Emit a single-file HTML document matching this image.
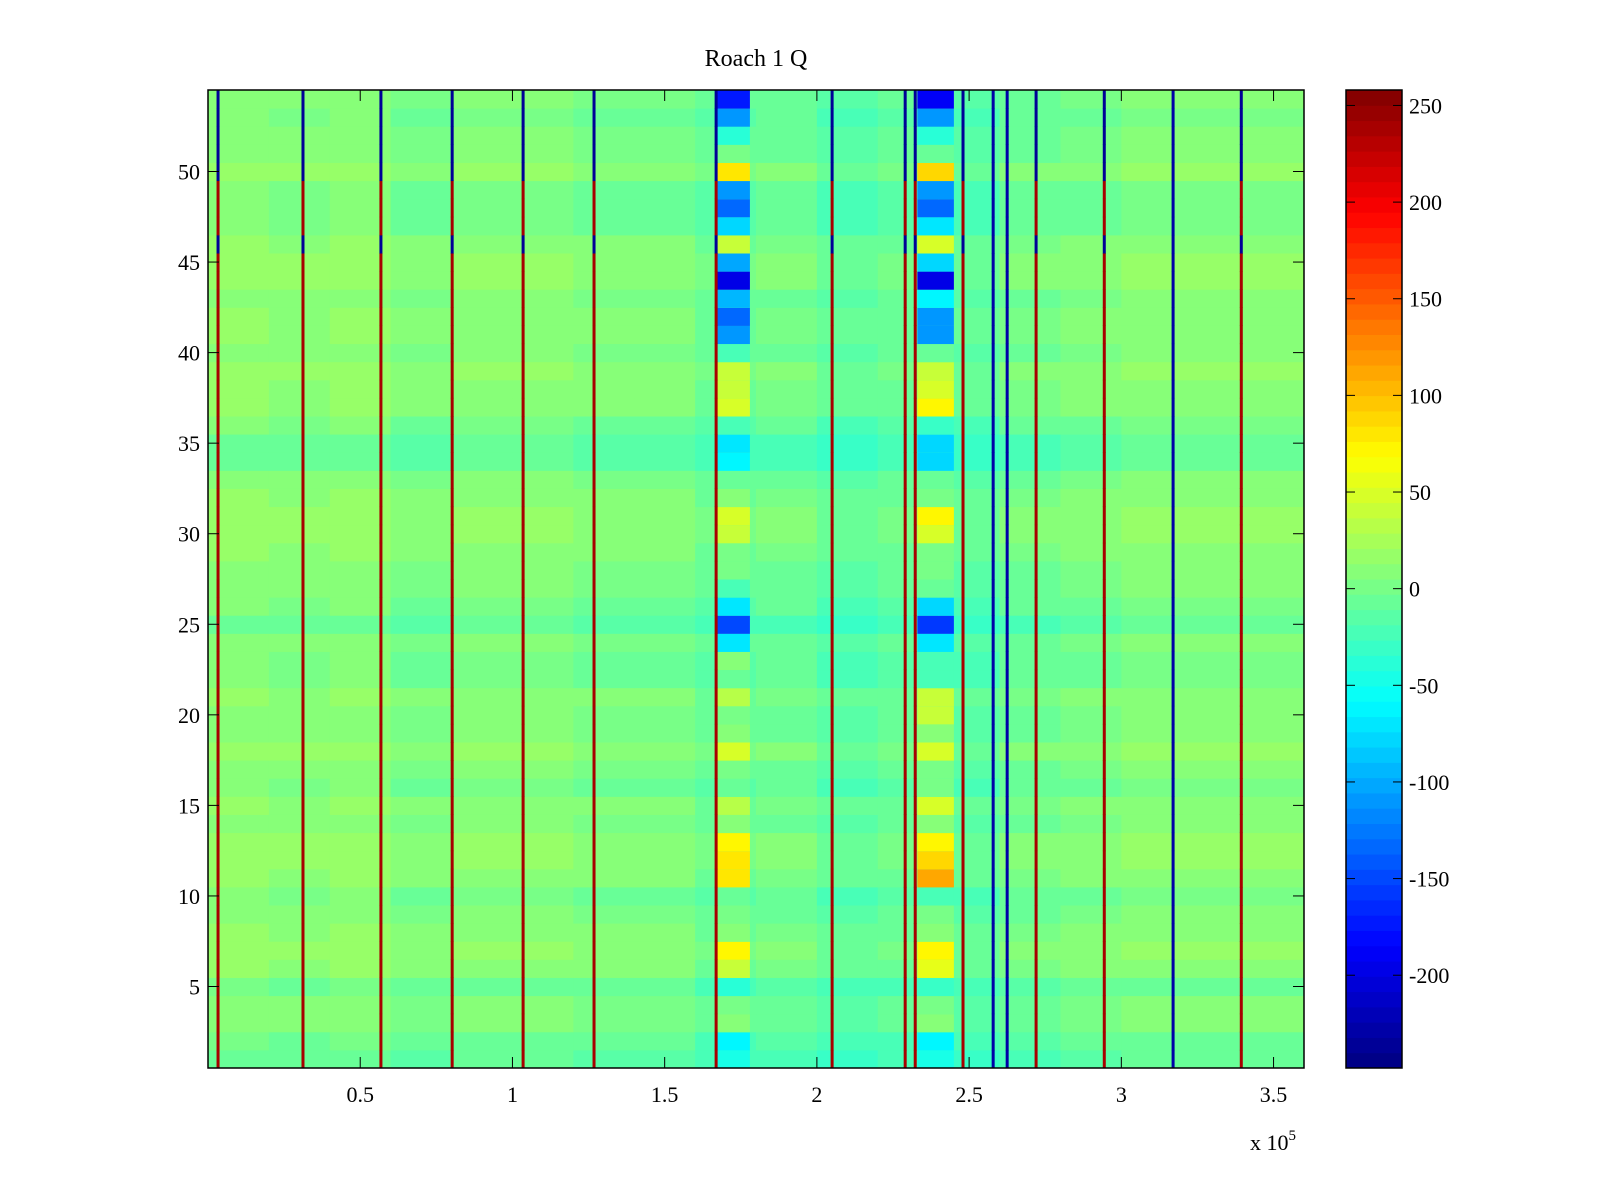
<!DOCTYPE html>
<html><head><meta charset="utf-8"><style>
html,body{margin:0;padding:0;background:#fff;}
svg{display:block;font-family:"Liberation Serif",serif;}
</style></head><body>
<svg id="chart" width="1600" height="1200" viewBox="0 0 1600 1200">
<text x="756" y="66" font-size="24" text-anchor="middle">Roach 1 Q</text>
<g id="cells"></g>
<g id="stripes"></g>
<rect x="208" y="90" width="1096" height="978" fill="none" stroke="#000" stroke-width="1.5"/>
<g id="axes"></g>
<g id="cbar"></g>
<text x="1250" y="1150" font-size="22">x 10<tspan dy="-10" font-size="15">5</tspan></text>
</svg>
<script>
// ---- data ----
const xTicks = [0.5, 1, 1.5, 2, 2.5, 3, 3.5];
const xTickLabels = ["0.5","1","1.5","2","2.5","3","3.5"];
const yTicks = [5,10,15,20,25,30,35,40,45,50];
const cbTicks = [-200,-150,-100,-50,0,50,100,150,200,250];
const baseValue = 0;
// column bins of 0.2e5 (18 bins)
const colTint = [10,5,10,0,5,5,0,0,-10,-5,-15,-10,-15,-5,0,5,5,5];
// row tint, row 1..54
const rowTint = [-15,-10,0,0,-10,5,10,5,0,-5, 5,10,10,0,5,-5,0,10,0,0, 5,-5,-5,0,-15,-5,0,0,5,10, 10,5,0,-15,-15,-5,5,5,10,0, 5,5,0,10,10,5,-5,-5,-5,10, 0,0,-5,0];
// anomaly bands (x range in units of 1e5), values row 1..54
const bandStart = [1.67, 2.33];
const bandEnd = [1.78, 2.45];
const bandLeft = [-50,-60,10,0,-40,40,70,10,0,-10, 80,80,70,10,30,-10,0,50,10,0, 30,-10,10,-70,-150,-70,-20,0,0,40, 50,10,-10,-60,-70,-20,50,40,40,-20, -110,-130,-90,-200,-100,40,-80,-130,-110,80, 0,-40,-110,-170];
const bandRight = [-50,-60,10,0,-30,60,70,10,0,-20, 110,90,70,10,50,0,0,50,10,40, 40,-20,-20,-70,-160,-80,-10,0,0,50, 70,0,-10,-80,-80,-30,70,50,40,-10, -110,-110,-60,-200,-80,50,-70,-130,-110,90, -10,-40,-110,-190];
// dark stripes (x in 1e5 units), kind: 'a' = blue at top rows / red elsewhere, 'b' = blue throughout
const stripeX = [0.033,0.312,0.568,0.802,1.035,1.268,1.669,2.05,2.29,2.323,2.48,2.72,2.944,3.17,3.394,2.579,2.625];
const stripeKind = ["a","a","a","a","a","a","a","a","a","a","a","a","a","b","a","b","b"];

// ---- scales ----
const X0=208, X1=1304, Y0=90, Y1=1068, xMin=0, xMax=3.6, yMin=0.5, yMax=54.5, cMin=-248, cMax=258;
const sx = v => X0 + (v - xMin) / (xMax - xMin) * (X1 - X0);
const sy = v => Y1 - (v - yMin) / (yMax - yMin) * (Y1 - Y0);
function jet(v){
  let t = (v - cMin) / (cMax - cMin); t = Math.max(0, Math.min(0.9999, t));
  t = (Math.floor(t*64)+0.5)/64;
  const c = a => Math.round(255*Math.max(0, Math.min(1, a)));
  return `rgb(${c(1.5-Math.abs(4*t-3))},${c(1.5-Math.abs(4*t-2))},${c(1.5-Math.abs(4*t-1))})`;
}
const NS="http://www.w3.org/2000/svg";
function mk(tag, attrs, parent){ const e=document.createElementNS(NS,tag); for(const k in attrs) e.setAttribute(k,attrs[k]); parent.appendChild(e); return e; }

// ---- cells ----
const cells=document.getElementById('cells');
const binW = (xMax - xMin) / colTint.length;
for(let r=0;r<rowTint.length;r++){
  const row=r+1, ya=sy(row+0.5), yb=sy(row-0.5);
  for(let c=0;c<colTint.length;c++){
    const xa=sx(c*binW), xb=sx((c+1)*binW);
    const e=mk('rect',{x:xa,y:ya,width:xb-xa+0.5,height:yb-ya+0.5,fill:jet(baseValue+colTint[c]+rowTint[r])},cells);
    
    
  }
  [bandLeft,bandRight].forEach((arr,i)=>{
    const xa=sx(bandStart[i]), xb=sx(bandEnd[i]);
    const e=mk('rect',{x:xa,y:ya,width:xb-xa,height:yb-ya+0.5,fill:jet(arr[r])},cells);
    
    
  });
}
// ---- stripes ----
const stripes=document.getElementById('stripes');
stripeX.forEach((x,i)=>{
  for(let row=1;row<=54;row++){
    let v;
    if(stripeKind[i]==='b') v=-230;
    else v = (row>=50 || row===46) ? -235 : 240;
    const e=mk('rect',{x:sx(x)-1.5,y:sy(row+0.5),width:3,height:sy(row-0.5)-sy(row+0.5)+0.5,fill:jet(v)},stripes);
    
    
  }
});
// ---- axes ----
const axes=document.getElementById('axes');
xTicks.forEach((t,i)=>{
  const x=sx(t);
  mk('line',{x1:x,y1:Y1,x2:x,y2:Y1-11,stroke:'#000','stroke-width':1},axes);
  mk('line',{x1:x,y1:Y0,x2:x,y2:Y0+11,stroke:'#000','stroke-width':1},axes);
  const tx=mk('text',{x:x,y:1102,'font-size':22,'text-anchor':'middle'},axes);
  tx.textContent=xTickLabels[i];
  
  
});
yTicks.forEach(t=>{
  const y=sy(t);
  mk('line',{x1:X0,y1:y,x2:X0+11,y2:y,stroke:'#000','stroke-width':1},axes);
  mk('line',{x1:X1,y1:y,x2:X1-11,y2:y,stroke:'#000','stroke-width':1},axes);
  const tx=mk('text',{x:200,y:y+8,'font-size':22,'text-anchor':'end'},axes);
  tx.textContent=String(t);
  
  
});
// ---- colorbar ----
const cb=document.getElementById('cbar');
const CX0=1346, CX1=1402;
const cy = v => Y1 - (v - cMin)/(cMax - cMin)*(Y1 - Y0);
for(let k=0;k<64;k++){
  const va=cMin+k*(cMax-cMin)/64, vb=cMin+(k+1)*(cMax-cMin)/64;
  const e=mk('rect',{x:CX0,y:cy(vb),width:CX1-CX0,height:cy(va)-cy(vb)+0.5,fill:jet((va+vb)/2)},cb);
  
  
}
mk('rect',{x:CX0,y:Y0,width:CX1-CX0,height:Y1-Y0,fill:'none',stroke:'#000','stroke-width':1.5},cb);
cbTicks.forEach(t=>{
  const y=cy(t);
  mk('line',{x1:CX0,y1:y,x2:CX0+9,y2:y,stroke:'#000','stroke-width':1},cb);
  mk('line',{x1:CX1,y1:y,x2:CX1-9,y2:y,stroke:'#000','stroke-width':1},cb);
  const tx=mk('text',{x:1409,y:y+8,'font-size':22},cb);
  tx.textContent=String(t);
  
  
});
</script>
</body></html>
